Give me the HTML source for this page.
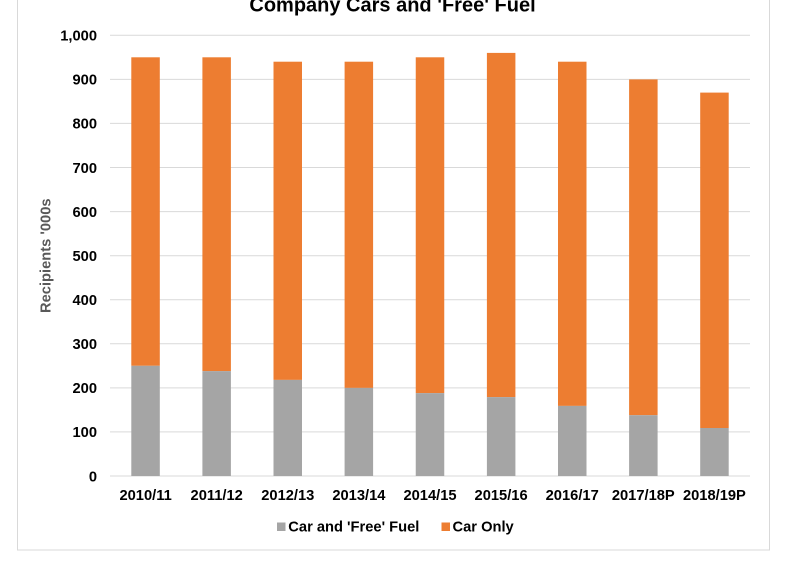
<!DOCTYPE html>
<html>
<head>
<meta charset="utf-8">
<style>
  html, body { margin:0; padding:0; background:#ffffff; }
  body { width:787px; height:563px; overflow:hidden; }
  svg { display:block; font-family:"Liberation Sans", Arial, sans-serif; }
</style>
</head>
<body>
<svg width="787" height="563" viewBox="0 0 787 563" xmlns="http://www.w3.org/2000/svg">
  <rect x="0" y="0" width="787" height="563" fill="#ffffff"/>
  <!-- chart frame -->
  <rect x="17.5" y="-10" width="752" height="560" fill="none" stroke="#d9d9d9" stroke-width="1"/>

  <!-- title -->
  <text x="392.5" y="11.5" text-anchor="middle" font-size="20" font-weight="bold" fill="#000000">Company Cars and 'Free' Fuel</text>

  <!-- gridlines -->
  <g stroke="#d9d9d9" stroke-width="1">
    <line x1="110" x2="750" y1="35.3" y2="35.3"/>
    <line x1="110" x2="750" y1="79.4" y2="79.4"/>
    <line x1="110" x2="750" y1="123.4" y2="123.4"/>
    <line x1="110" x2="750" y1="167.5" y2="167.5"/>
    <line x1="110" x2="750" y1="211.6" y2="211.6"/>
    <line x1="110" x2="750" y1="255.7" y2="255.7"/>
    <line x1="110" x2="750" y1="299.7" y2="299.7"/>
    <line x1="110" x2="750" y1="343.8" y2="343.8"/>
    <line x1="110" x2="750" y1="387.9" y2="387.9"/>
    <line x1="110" x2="750" y1="431.9" y2="431.9"/>
    <line x1="110" x2="750" y1="476" y2="476"/>
  </g>

  <!-- y tick labels -->
  <g font-size="14.7" font-weight="bold" fill="#000000" text-anchor="end">
    <text x="97" y="40.6">1,000</text>
    <text x="97" y="84.7">900</text>
    <text x="97" y="128.7">800</text>
    <text x="97" y="172.8">700</text>
    <text x="97" y="216.9">600</text>
    <text x="97" y="261">500</text>
    <text x="97" y="305">400</text>
    <text x="97" y="349.1">300</text>
    <text x="97" y="393.2">200</text>
    <text x="97" y="437.2">100</text>
    <text x="97" y="481.3">0</text>
  </g>

  <!-- y axis title -->
  <text transform="translate(50.5,255.7) rotate(-90)" text-anchor="middle" font-size="14.7" font-weight="bold" fill="#595959">Recipients '000s</text>

  <!-- bars: orange (Car Only) -->
  <g fill="#ED7D31">
    <rect x="131.3" y="57.3" width="28.5" height="308.5"/>
    <rect x="202.4" y="57.3" width="28.5" height="313.8"/>
    <rect x="273.5" y="61.7" width="28.5" height="318.2"/>
    <rect x="344.6" y="61.7" width="28.5" height="326.2"/>
    <rect x="415.75" y="57.3" width="28.5" height="335.8"/>
    <rect x="486.9" y="52.9" width="28.5" height="344.2"/>
    <rect x="558" y="61.7" width="28.5" height="344.2"/>
    <rect x="629.1" y="79.4" width="28.5" height="335.8"/>
    <rect x="700.2" y="92.6" width="28.5" height="335.4"/>
  </g>
  <!-- bars: grey (Car and 'Free' Fuel) -->
  <g fill="#A5A5A5">
    <rect x="131.3" y="365.8" width="28.5" height="110.2"/>
    <rect x="202.4" y="371.1" width="28.5" height="104.9"/>
    <rect x="273.5" y="379.9" width="28.5" height="96.1"/>
    <rect x="344.6" y="387.9" width="28.5" height="88.1"/>
    <rect x="415.75" y="393.1" width="28.5" height="82.9"/>
    <rect x="486.9" y="397.1" width="28.5" height="78.9"/>
    <rect x="558" y="405.9" width="28.5" height="70.1"/>
    <rect x="629.1" y="415.2" width="28.5" height="60.8"/>
    <rect x="700.2" y="428" width="28.5" height="48"/>
  </g>

  <!-- x labels -->
  <g font-size="14.7" font-weight="bold" fill="#000000" text-anchor="middle">
    <text x="145.6" y="500">2010/11</text>
    <text x="216.7" y="500">2011/12</text>
    <text x="287.8" y="500">2012/13</text>
    <text x="358.9" y="500">2013/14</text>
    <text x="430" y="500">2014/15</text>
    <text x="501.1" y="500">2015/16</text>
    <text x="572.2" y="500">2016/17</text>
    <text x="643.3" y="500">2017/18P</text>
    <text x="714.4" y="500">2018/19P</text>
  </g>

  <!-- legend -->
  <rect x="277" y="522.5" width="8.5" height="8.5" fill="#A5A5A5"/>
  <text x="288.3" y="531.5" font-size="14.7" font-weight="bold" fill="#000000">Car and 'Free' Fuel</text>
  <rect x="441.5" y="522.5" width="8.5" height="8.5" fill="#ED7D31"/>
  <text x="452.5" y="531.5" font-size="14.7" font-weight="bold" fill="#000000">Car Only</text>
</svg>
</body>
</html>
